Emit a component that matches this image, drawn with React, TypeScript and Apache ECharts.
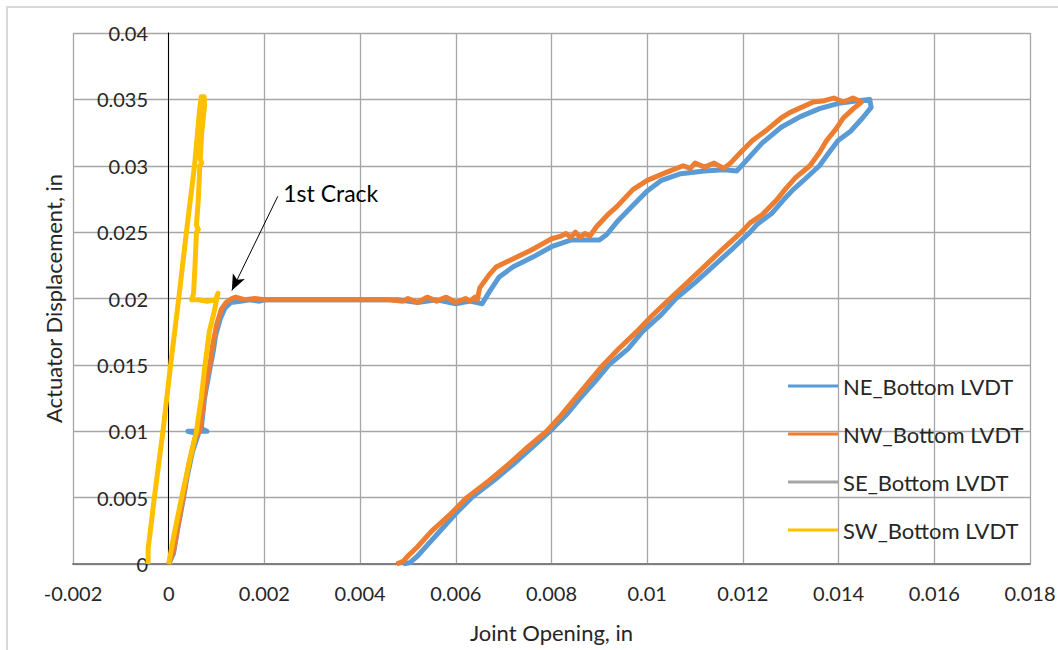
import React, { useEffect, useRef } from "react";
import * as echarts from "echarts";

const seriesNames = ["NE_Bottom LVDT", "NW_Bottom LVDT", "SE_Bottom LVDT", "SW_Bottom LVDT"];
const seriesColors = ["#5B9BD5", "#ED7D31", "#A5A5A5", "#FFC000"];

const neData: number[][] = [
  [0.0, 0.0], [0.0001, 0.0008], [0.00018, 0.0025], [0.0003, 0.0048], [0.00038, 0.0065],
  [0.0005, 0.0085], [0.00062, 0.0098], [0.0004, 0.01], [0.0008, 0.01], [0.00068, 0.0102],
  [0.00075, 0.0125], [0.00085, 0.0145], [0.00093, 0.016], [0.00098, 0.0172], [0.00108, 0.0185],
  [0.00118, 0.0193], [0.0013, 0.0197], [0.0015, 0.0198], [0.0017, 0.0199], [0.0019, 0.0198],
  [0.002, 0.0199], [0.003, 0.0199], [0.004, 0.0199], [0.0048, 0.0199], [0.0052, 0.0197],
  [0.0056, 0.0199], [0.006, 0.0196], [0.0063, 0.0198], [0.00655, 0.0196], [0.0067, 0.0205],
  [0.0069, 0.0216], [0.0072, 0.0224], [0.0076, 0.0231], [0.008, 0.0239], [0.0084, 0.0244],
  [0.0087, 0.0244], [0.009, 0.0244], [0.00915, 0.0248], [0.0094, 0.0259], [0.0097, 0.027],
  [0.01, 0.0281], [0.0103, 0.0289], [0.0107, 0.0294], [0.0112, 0.0296], [0.0116, 0.0297],
  [0.01187, 0.0296], [0.0121, 0.0305], [0.0124, 0.0317], [0.0128, 0.0329], [0.0132, 0.0337],
  [0.0136, 0.0343], [0.014, 0.0347], [0.0144, 0.0349], [0.01465, 0.035], [0.01468, 0.0344],
  [0.0145, 0.0336], [0.01425, 0.0326], [0.01399, 0.0319], [0.0138, 0.031], [0.0136, 0.03],
  [0.0133, 0.029], [0.01305, 0.0282], [0.01284, 0.0274], [0.0126, 0.0264], [0.0123, 0.0256],
  [0.01215, 0.025], [0.0118, 0.0238], [0.0114, 0.0225], [0.011, 0.0212], [0.0106, 0.02],
  [0.0103, 0.0188], [0.0099, 0.0175], [0.0096, 0.0162], [0.0092, 0.015], [0.0089, 0.0137],
  [0.0086, 0.0125], [0.0083, 0.0112], [0.00797, 0.01], [0.0076, 0.0088], [0.0072, 0.0075],
  [0.0068, 0.0063], [0.00633, 0.005], [0.006, 0.0038], [0.0057, 0.0026], [0.0054, 0.0014],
  [0.0052, 0.0006], [0.00504, 0.0001], [0.0049, 0.0]
];

const nwData: number[][] = [
  [0.0, 0.0], [0.0001, 0.001], [0.0002, 0.003], [0.0003, 0.005], [0.00042, 0.0075],
  [0.00055, 0.0095], [0.00065, 0.01], [0.00072, 0.012], [0.0008, 0.014], [0.00086, 0.015],
  [0.00092, 0.0165], [0.001, 0.018], [0.0011, 0.0192], [0.0012, 0.0197], [0.00132, 0.02],
  [0.0014, 0.0201], [0.0016, 0.0199], [0.0018, 0.02], [0.002, 0.0199], [0.003, 0.0199],
  [0.004, 0.0199], [0.0046, 0.0199], [0.0049, 0.0198], [0.005, 0.02], [0.0052, 0.0197],
  [0.0054, 0.0201], [0.0056, 0.0198], [0.0058, 0.0201], [0.006, 0.0197], [0.0062, 0.02],
  [0.0063, 0.0198], [0.0064, 0.0201], [0.00645, 0.0199], [0.0065, 0.0208], [0.0067, 0.0218],
  [0.00685, 0.0224], [0.0072, 0.023], [0.00755, 0.0236], [0.0078, 0.0241], [0.008, 0.0245],
  [0.0082, 0.0247], [0.0083, 0.0249], [0.0084, 0.0246], [0.0085, 0.025], [0.0086, 0.0246],
  [0.0087, 0.0249], [0.0088, 0.0247], [0.00894, 0.0254], [0.0092, 0.0264], [0.00936, 0.0269],
  [0.0097, 0.0282], [0.01, 0.0289], [0.0104, 0.0295], [0.01075, 0.03], [0.0109, 0.0298],
  [0.011, 0.0302], [0.0112, 0.0299], [0.0114, 0.0302], [0.0116, 0.0298], [0.01174, 0.0302],
  [0.01195, 0.031], [0.0122, 0.0319], [0.0125, 0.0327], [0.0128, 0.0336], [0.01298, 0.034],
  [0.01347, 0.0348], [0.0137, 0.0349], [0.0139, 0.0351], [0.0141, 0.0348], [0.0143, 0.0351],
  [0.01448, 0.0348], [0.01431, 0.0343], [0.0141, 0.0336], [0.01395, 0.0328], [0.01375, 0.0319],
  [0.0136, 0.031], [0.0134, 0.03], [0.0131, 0.0291], [0.0129, 0.0283], [0.0127, 0.0274],
  [0.0124, 0.0263], [0.01215, 0.0257], [0.01197, 0.025], [0.0116, 0.0238], [0.01122, 0.0225],
  [0.0109, 0.0214], [0.01048, 0.02], [0.0101, 0.0187], [0.00978, 0.0175], [0.0094, 0.0162],
  [0.00908, 0.015], [0.0088, 0.0138], [0.0085, 0.0125], [0.0082, 0.0112], [0.0079, 0.01],
  [0.0075, 0.0088], [0.0071, 0.0075], [0.0067, 0.0063], [0.00623, 0.005], [0.0059, 0.0038],
  [0.0055, 0.0025], [0.0052, 0.0013], [0.005, 0.0006], [0.0049, 0.0002], [0.00476, 0.0]
];

const seData: number[][] = [];

const swData: number[][] = [
  [0.0, 0.0], [0.0001, 0.002], [0.00027, 0.005], [0.00042, 0.0075], [0.00058, 0.01],
  [0.00068, 0.0125], [0.00076, 0.015], [0.00085, 0.0175], [0.00095, 0.019], [0.001, 0.0199],
  [0.00103, 0.0204], [0.00098, 0.0199], [0.0008, 0.0198], [0.00062, 0.0199], [0.00048, 0.0199],
  [0.00052, 0.0204], [0.00055, 0.0225], [0.00058, 0.025], [0.00062, 0.0252], [0.00058, 0.0255],
  [0.00062, 0.0275], [0.00065, 0.03], [0.00069, 0.0302], [0.00066, 0.0305], [0.00069, 0.0325],
  [0.00075, 0.0345], [0.00074, 0.0352], [0.00068, 0.0352], [0.00064, 0.034], [0.00054, 0.03],
  [0.00037, 0.025], [0.00021, 0.02], [0.00004, 0.015], [-0.00012, 0.01], [-0.0003, 0.005],
  [-0.0004, 0.002], [-0.00043, 0.0012], [-0.00043, 0.0]
];

const xTicks = { min: -0.002, max: 0.018, interval: 0.002 };
const yTicks = { min: 0, max: 0.04, interval: 0.005 };

const crackLabel = "1st Crack";
const crackArrowFrom = [0.00228, 0.0277];
const crackArrowTo = [0.00132, 0.0206];
const crackTextAt = [0.00229, 0.02794];

const FONT = "Lato, 'Open Sans', sans-serif";
const TXT = "#262626";
const fmt = (v: number) => String(parseFloat(v.toFixed(4)));

export default function App() {
  const ref = useRef<HTMLDivElement>(null);
  useEffect(() => {
    if (!ref.current) return;
    const chart = echarts.init(ref.current, undefined, { renderer: "svg" });
    const allData = [neData, nwData, seData, swData];
    chart.setOption({
      animation: false,
      backgroundColor: "#ffffff",
      textStyle: { fontFamily: FONT },
      graphic: [
        {
          type: "rect",
          shape: { x: 7, y: 7, width: 1100, height: 700 },
          style: { fill: "none", stroke: "#d9d9d9", lineWidth: 2 },
          silent: true,
          z: -1,
        },
      ],
      grid: { left: 73, top: 33, right: 28, bottom: 86, containLabel: false, outerBoundsMode: "none" },
      legend: {
        orient: "vertical",
        left: 788,
        top: 375,
        padding: 0,
        itemWidth: 50,
        itemHeight: 3,
        itemGap: 26,
        icon: "rect",
        data: seriesNames,
        textStyle: { fontSize: 22, lineHeight: 22, color: TXT, fontFamily: FONT, padding: [0, 0, 0, 0] },
      },
      xAxis: {
        type: "value",
        min: xTicks.min,
        max: xTicks.max,
        interval: xTicks.interval,
        name: "Joint Opening, in",
        nameLocation: "middle",
        nameGap: 57,
        nameTextStyle: { fontSize: 22, color: TXT, fontFamily: FONT },
        axisLine: { show: true, onZero: false, lineStyle: { color: "#7f7f7f", width: 2 } },
        axisTick: { show: false },
        axisLabel: { fontSize: 20, color: TXT, margin: 19, formatter: fmt },
        splitLine: { show: true, lineStyle: { color: "#a6a6a6", width: 1.3 } },
      },
      yAxis: {
        type: "value",
        min: yTicks.min,
        max: yTicks.max,
        interval: yTicks.interval,
        name: "Actuator Displacement, in",
        nameLocation: "middle",
        nameGap: 9,
        nameTextStyle: { fontSize: 22, color: TXT, fontFamily: FONT },
        axisLine: { show: true, onZero: true, lineStyle: { color: "#000000", width: 1 } },
        axisTick: { show: false },
        axisLabel: { fontSize: 20, color: TXT, margin: -75, formatter: fmt },
        splitLine: { show: true, lineStyle: { color: "#a6a6a6", width: 1.3 } },
      },
      series: seriesNames.map((name, i) => ({
        name,
        type: "line",
        data: allData[i],
        symbol: "none",
        showSymbol: false,
        color: seriesColors[i],
        lineStyle: { width: 5, color: seriesColors[i], join: "round" },
        z: 2 + i,
        ...(i === 3
          ? {
              markLine: {
                silent: true,
                animation: false,
                symbol: ["none", "arrow"],
                symbolSize: [10, 16],
                lineStyle: { color: "#000000", width: 1, type: "solid" },
                label: { show: false },
                data: [[{ coord: crackArrowFrom }, { coord: crackArrowTo }]],
              },
              markPoint: {
                silent: true,
                symbol: "circle",
                symbolSize: 0,
                data: [
                  {
                    coord: crackTextAt,
                    label: {
                      show: true,
                      position: "right",
                      distance: 5,
                      formatter: crackLabel,
                      fontSize: 23,
                      color: "#000000",
                      fontFamily: FONT,
                    },
                  },
                ],
              },
            }
          : {}),
      })),
    });
    return () => chart.dispose();
  }, []);
  return (
    <div
      ref={ref}
      style={{ position: "absolute", left: 0, top: 0, width: 1058, height: 650 }}
    />
  );
}
